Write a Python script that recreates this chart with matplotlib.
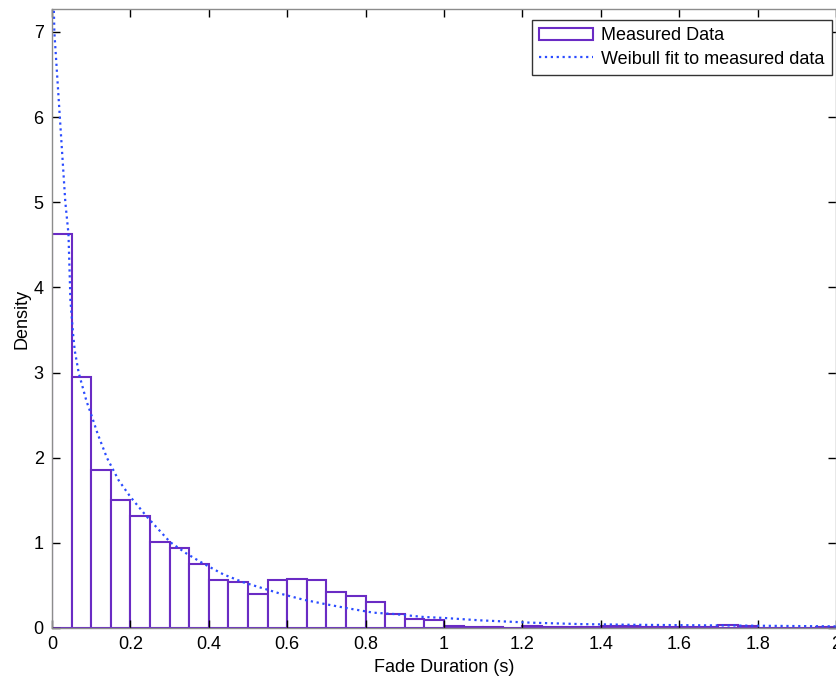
import matplotlib
matplotlib.use('Agg')
import matplotlib.pyplot as plt

plt.rcParams['font.family'] = ['Liberation Sans', 'DejaVu Sans']

# histogram bins (left edges) and density per bin, width 0.05 s
bin_width = 0.05
bin_left = [i * bin_width for i in range(40)]
density = [4.63, 2.95, 1.85, 1.50, 1.31, 1.01, 0.945, 0.757, 0.561, 0.537,
           0.396, 0.569, 0.580, 0.569, 0.42, 0.38, 0.31, 0.16, 0.106, 0.099,
           0.028, 0.012, 0.012, 0.002, 0.028, 0.016, 0.012, 0.012, 0.028, 0.02,
           0.014, 0.014, 0.016, 0.008, 0.04, 0.028, 0.004, 0.004, 0.004, 0.016]

# Weibull fit
fit_x = [0.002, 0.006, 0.020, 0.034, 0.042, 0.047, 0.0536, 0.058, 0.068, 0.0876,
         0.102, 0.1165, 0.140, 0.170, 0.200, 0.2415, 0.301, 0.343, 0.386, 0.437,
         0.488, 0.582, 0.641, 0.70, 0.76, 0.82, 0.87, 0.947, 1.0, 1.092, 1.219,
         1.347, 1.474, 1.645, 1.815, 1.95, 2.0]
fit_y = [7.8, 7.0, 6.0, 5.0, 4.63, 3.85, 3.46, 3.26, 3.0, 2.67,
         2.48, 2.28, 2.0, 1.735, 1.54, 1.31, 1.01, 0.875, 0.757, 0.63,
         0.537, 0.404, 0.333, 0.278, 0.227, 0.18, 0.165, 0.13, 0.118, 0.09, 0.063,
         0.046, 0.038, 0.032, 0.026, 0.021, 0.019]

purple = '#6a2bc4'
blue = '#2b4cff'

fig = plt.figure(figsize=(8.37, 6.77), dpi=100)
ax = fig.add_axes([52 / 837, 49 / 677, 784 / 837, 619 / 677])

bars = ax.bar(bin_left, density, width=bin_width, align='edge', facecolor='white',
              edgecolor=purple, linewidth=1.5, label='Measured Data')
line, = ax.plot(fit_x, fit_y, linestyle=':', color=blue, linewidth=1.6,
                label='Weibull fit to measured data')

ax.set_xlim(0, 2)
ax.set_ylim(0, 7.27)
ax.set_xticks([0, 0.2, 0.4, 0.6, 0.8, 1, 1.2, 1.4, 1.6, 1.8, 2])
ax.set_xticklabels(['0', '0.2', '0.4', '0.6', '0.8', '1', '1.2', '1.4', '1.6', '1.8', '2'])
ax.set_yticks(range(8))
ax.tick_params(direction='in', top=True, right=True, length=6, width=1,
               labelsize=13, pad=6, colors='black')
for s in ax.spines.values():
    s.set_color('#8c8c8c')
    s.set_linewidth(1)

ax.set_xlabel('Fade Duration (s)', fontsize=13, labelpad=4)
ax.set_ylabel('Density', fontsize=13, labelpad=2)

leg = ax.legend([bars, line], ['Measured Data', 'Weibull fit to measured data'],
                loc='upper right', bbox_to_anchor=(0.995, 0.982),
                fontsize=13, fancybox=False, framealpha=1,
                edgecolor='#333333', handlelength=3.0, handletextpad=0.45,
                borderpad=0.4, labelspacing=0.35, borderaxespad=0)
leg.get_frame().set_linewidth(1)

fig.savefig('out.png', dpi=100)
